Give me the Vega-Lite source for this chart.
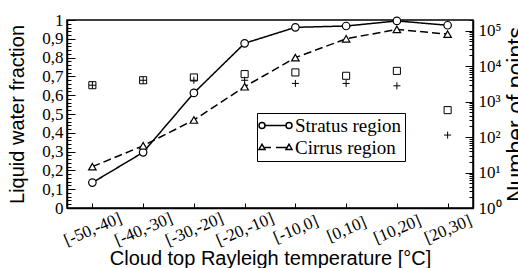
{
  "$schema": "https://vega.github.io/schema/vega-lite/v6.json",
  "autosize": {"type": "none"},
  "width": 406,
  "height": 188,
  "padding": {"left": 67, "top": 20, "right": 45, "bottom": 60},
  "background": "white",
  "datasets": {
    "lwf": [
      {"bin": "[-50,-40]", "region": "Stratus region", "lwf": 0.135},
      {"bin": "[-40,-30]", "region": "Stratus region", "lwf": 0.296},
      {"bin": "[-30,-20]", "region": "Stratus region", "lwf": 0.612},
      {"bin": "[-20,-10]", "region": "Stratus region", "lwf": 0.876},
      {"bin": "[-10,0]", "region": "Stratus region", "lwf": 0.961},
      {"bin": "[0,10]", "region": "Stratus region", "lwf": 0.968},
      {"bin": "[10,20]", "region": "Stratus region", "lwf": 0.995},
      {"bin": "[20,30]", "region": "Stratus region", "lwf": 0.972},
      {"bin": "[-50,-40]", "region": "Cirrus region", "lwf": 0.22},
      {"bin": "[-40,-30]", "region": "Cirrus region", "lwf": 0.331},
      {"bin": "[-30,-20]", "region": "Cirrus region", "lwf": 0.468},
      {"bin": "[-20,-10]", "region": "Cirrus region", "lwf": 0.645},
      {"bin": "[-10,0]", "region": "Cirrus region", "lwf": 0.80},
      {"bin": "[0,10]", "region": "Cirrus region", "lwf": 0.90},
      {"bin": "[10,20]", "region": "Cirrus region", "lwf": 0.95},
      {"bin": "[20,30]", "region": "Cirrus region", "lwf": 0.925}
    ],
    "counts": [
      {"bin": "[-50,-40]", "kind": "Stratus points", "n": 2900},
      {"bin": "[-40,-30]", "kind": "Stratus points", "n": 4000},
      {"bin": "[-30,-20]", "kind": "Stratus points", "n": 4800},
      {"bin": "[-20,-10]", "kind": "Stratus points", "n": 5950},
      {"bin": "[-10,0]", "kind": "Stratus points", "n": 6650},
      {"bin": "[0,10]", "kind": "Stratus points", "n": 5350},
      {"bin": "[10,20]", "kind": "Stratus points", "n": 7350},
      {"bin": "[20,30]", "kind": "Stratus points", "n": 575},
      {"bin": "[-50,-40]", "kind": "Cirrus points", "n": 2900},
      {"bin": "[-40,-30]", "kind": "Cirrus points", "n": 4000},
      {"bin": "[-30,-20]", "kind": "Cirrus points", "n": 4000},
      {"bin": "[-20,-10]", "kind": "Cirrus points", "n": 4000},
      {"bin": "[-10,0]", "kind": "Cirrus points", "n": 3250},
      {"bin": "[0,10]", "kind": "Cirrus points", "n": 3250},
      {"bin": "[10,20]", "kind": "Cirrus points", "n": 2790},
      {"bin": "[20,30]", "kind": "Cirrus points", "n": 114}
    ]
  },
  "layer": [
    {
      "data": {"name": "lwf"},
      "encoding": {
        "x": {
          "field": "bin", "type": "ordinal",
          "sort": ["[-50,-40]", "[-40,-30]", "[-30,-20]", "[-20,-10]", "[-10,0]", "[0,10]", "[10,20]", "[20,30]"],
          "title": "Cloud top Rayleigh temperature [°C]",
          "axis": {"labelAngle": -23, "labelAlign": "center", "labelBaseline": "middle", "tickSize": -5, "labelPadding": 26, "titlePadding": 0, "labelFontSize": 17}
        },
        "y": {
          "field": "lwf", "type": "quantitative",
          "scale": {"domain": [0, 1], "nice": false, "zero": true},
          "title": "Liquid water fraction",
          "axis": {
            "orient": "left",
            "values": [0, 0.1, 0.2, 0.3, 0.4, 0.5, 0.6, 0.7, 0.8, 0.9, 1],
            "labelExpr": "datum.value < 0.001 ? '0' : (datum.value > 0.999 ? '1' : '0,' + round(datum.value*10))",
            "tickSize": -8,
            "labelPadding": 12,
            "labelFlush": false,
            "labelOverlap": false,
            "labelBound": false,
            "titlePadding": 14
          }
        }
      },
      "layer": [
        {
          "mark": {"type": "line", "color": "black", "strokeWidth": 1.5},
          "encoding": {
            "strokeDash": {
              "field": "region", "type": "nominal",
              "scale": {"domain": ["Stratus region", "Cirrus region"], "range": [[1, 0], [8, 4]]},
              "legend": null
            }
          }
        },
        {
          "mark": {"type": "point", "filled": true, "fill": "white", "stroke": "black", "strokeWidth": 1.2, "opacity": 1},
          "encoding": {
            "shape": {
              "field": "region", "type": "nominal",
              "scale": {"domain": ["Stratus region", "Cirrus region"], "range": ["circle", "triangle-up"]},
              "legend": null
            },
            "size": {"value": 56}
          }
        }
      ]
    },
    {
      "data": {"name": "lwf"},
      "transform": [{"filter": "false"}],
      "mark": {"type": "point", "filled": true, "fill": "white", "stroke": "black", "strokeWidth": 1.2, "opacity": 1},
      "encoding": {
        "x": {
          "field": "bin", "type": "ordinal",
          "sort": ["[-50,-40]", "[-40,-30]", "[-30,-20]", "[-20,-10]", "[-10,0]", "[0,10]", "[10,20]", "[20,30]"],
          "title": "Cloud top Rayleigh temperature [°C]"
        },
        "y": {
          "field": "lwf", "type": "quantitative",
          "scale": {"domain": [0, 1], "nice": false},
          "axis": {
            "orient": "left",
            "title": null,
            "labels": false,
            "domain": false,
            "tickSize": -4,
            "values": [0.02,0.04,0.06,0.08,0.12,0.14,0.16,0.18,0.22,0.24,0.26,0.28,0.32,0.34,0.36,0.38,0.42,0.44,0.46,0.48,0.52,0.54,0.56,0.58,0.62,0.64,0.66,0.68,0.72,0.74,0.76,0.78,0.82,0.84,0.86,0.88,0.92,0.94,0.96,0.98]
          }
        },
        "shape": {
          "field": "region", "type": "nominal",
          "scale": {
            "domain": ["Stratus region", "Cirrus region"],
            "range": [
              "M -2.1 0 C -2.1 -0.331 -1.831 -0.6 -1.5 -0.6 C -1.169 -0.6 -0.9 -0.331 -0.9 0 C -0.9 0.331 -1.169 0.6 -1.5 0.6 C -1.831 0.6 -2.1 0.331 -2.1 0 Z M -0.9 0 L 3.3 0 M 3.3 0 C 3.3 -0.331 3.569 -0.6 3.9 -0.6 C 4.231 -0.6 4.5 -0.331 4.5 0 C 4.5 0.331 4.231 0.6 3.9 0.6 C 3.569 0.6 3.3 0.331 3.3 0 Z",
              "M -2.1 0.4 L -0.9 0.4 L -1.5 -0.65 Z M -1.0 0 L 0.3 0 M 1.3 0 L 3.4 0 M 3.3 0.4 L 4.5 0.4 L 3.9 -0.65 Z"
            ]
          },
          "legend": {
            "title": null,
            "orient": "none",
            "legendX": 190,
            "legendY": 93,
            "strokeColor": "black",
            "fillColor": "white",
            "padding": 3,
            "labelFont": "Liberation Serif",
            "labelFontSize": 19,
            "labelColor": "black",
            "labelOffset": 16,
            "rowPadding": 2
          }
        },
        "size": {"value": 56}
      }
    },
    {
      "data": {"name": "counts"},
      "mark": {"type": "point", "filled": false, "stroke": "black", "strokeWidth": 1, "opacity": 1},
      "encoding": {
        "x": {
          "field": "bin", "type": "ordinal",
          "sort": ["[-50,-40]", "[-40,-30]", "[-30,-20]", "[-20,-10]", "[-10,0]", "[0,10]", "[10,20]", "[20,30]"],
          "title": "Cloud top Rayleigh temperature [°C]"
        },
        "y": {
          "field": "n", "type": "quantitative",
          "scale": {"type": "log", "domain": [1, 200000], "nice": false},
          "title": "Number of points",
          "axis": {
            "orient": "right",
            "values": [1,2,3,4,5,6,7,8,9,10,20,30,40,50,60,70,80,90,100,200,300,400,500,600,700,800,900,1000,2000,3000,4000,5000,6000,7000,8000,9000,10000,20000,30000,40000,50000,60000,70000,80000,90000,100000,200000],
            "labelExpr": "abs(log(datum.value)/LN10 - round(log(datum.value)/LN10)) < 0.000001 ? ('10' + ['⁰','¹','²','³','⁴','⁵'][round(log(datum.value)/LN10)]) : ''",
            "tickSize": {"condition": {"test": "abs(log(datum.value)/LN10 - round(log(datum.value)/LN10)) < 0.000001", "value": -8}, "value": -4},
            "labelPadding": 13,
            "labelFlush": false,
            "labelOverlap": false,
            "titleAngle": 270,
            "titleBaseline": "top",
            "titlePadding": 4,
            "titleFontSize": 23
          }
        },
        "shape": {
          "field": "kind", "type": "nominal",
          "scale": {"domain": ["Stratus points", "Cirrus points"], "range": ["square", "M -1 0 L 1 0 M 0 -1 L 0 1"]},
          "legend": null
        },
        "size": {"value": 50}
      }
    }
  ],
  "resolve": {"scale": {"y": "independent", "shape": "independent"}},
  "config": {
    "view": {"stroke": "black", "strokeWidth": 1.5},
    "axis": {
      "grid": false,
      "domainColor": "black",
      "domainWidth": 1.5,
      "tickColor": "black",
      "tickWidth": 1,
      "labelColor": "black",
      "titleColor": "black",
      "labelFont": "Liberation Serif",
      "labelFontSize": 17,
      "labelOverlap": false,
      "titleFont": "Liberation Sans",
      "titleFontSize": 20,
      "titleFontWeight": "normal"
    }
  }
}
